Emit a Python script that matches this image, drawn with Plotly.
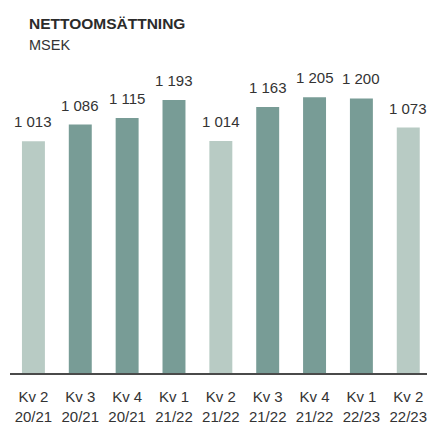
import plotly.graph_objects as go

quarters = ["Kv 2", "Kv 3", "Kv 4", "Kv 1", "Kv 2", "Kv 3", "Kv 4", "Kv 1", "Kv 2"]
years = ["20/21", "20/21", "20/21", "21/22", "21/22", "21/22", "21/22", "22/23", "22/23"]
values = [1013, 1086, 1115, 1193, 1014, 1163, 1205, 1200, 1073]
highlight = [False, True, True, True, False, True, True, True, False]

DARK = "#789c96"
LIGHT = "#b8cbc4"
TEXT = "#333333"
FONT = "Liberation Sans, Arial"

def fmt(v):
    return f"{v:,}".replace(",", " ")

x = list(range(len(values)))
colors = [DARK if h else LIGHT for h in highlight]
labels = [f"{q}<br>{y}" for q, y in zip(quarters, years)]

fig = go.Figure(go.Bar(
    x=x, y=values, width=0.49,
    marker=dict(color=colors, line=dict(width=0)),
    hoverinfo="skip",
))

annotations = [
    dict(x=i, y=v, xref="x", yref="y", text=fmt(v), showarrow=False,
         xanchor="center", yanchor="bottom", yshift=9,
         font=dict(family=FONT, size=15, color=TEXT))
    for i, v in zip(x, values)
]
annotations += [
    dict(text="<b>NETTOOMSÄTTNING</b>", xref="paper", yref="paper",
         x=(27 - 10) / 417, y=(376 - 23) / 316, xanchor="left", yanchor="middle",
         showarrow=False, font=dict(family="Liberation Sans, Arial", size=15.5, color="#2b2b2b")),
    dict(text="MSEK", xref="paper", yref="paper",
         x=(27 - 10) / 417, y=(376 - 45) / 316, xanchor="left", yanchor="middle",
         showarrow=False, font=dict(family="Liberation Sans, Arial", size=14.5, color=TEXT)),
]

fig.update_layout(
    width=427, height=425,
    margin=dict(l=10, r=0, t=60, b=49),
    plot_bgcolor="white", paper_bgcolor="white",
    showlegend=False,
    font=dict(family=FONT, color=TEXT),
    xaxis=dict(
        range=[-0.5, 8.4], tickmode="array", tickvals=x, ticktext=labels,
        tickfont=dict(family=FONT, size=15, color=TEXT),
        showline=True, linecolor="#4a4a4a", linewidth=2,
        showgrid=False, zeroline=False, ticks="", ticklabelstandoff=9,
        ticklabeloverflow="allow",
    ),
    yaxis=dict(range=[0, 1368], visible=False, showgrid=False, zeroline=False),
    annotations=annotations,
)
fig.write_html(
    "out.html",
    config={"displayModeBar": False},
    post_script="document.body.style.margin='0';document.body.style.overflow='hidden';",
)
